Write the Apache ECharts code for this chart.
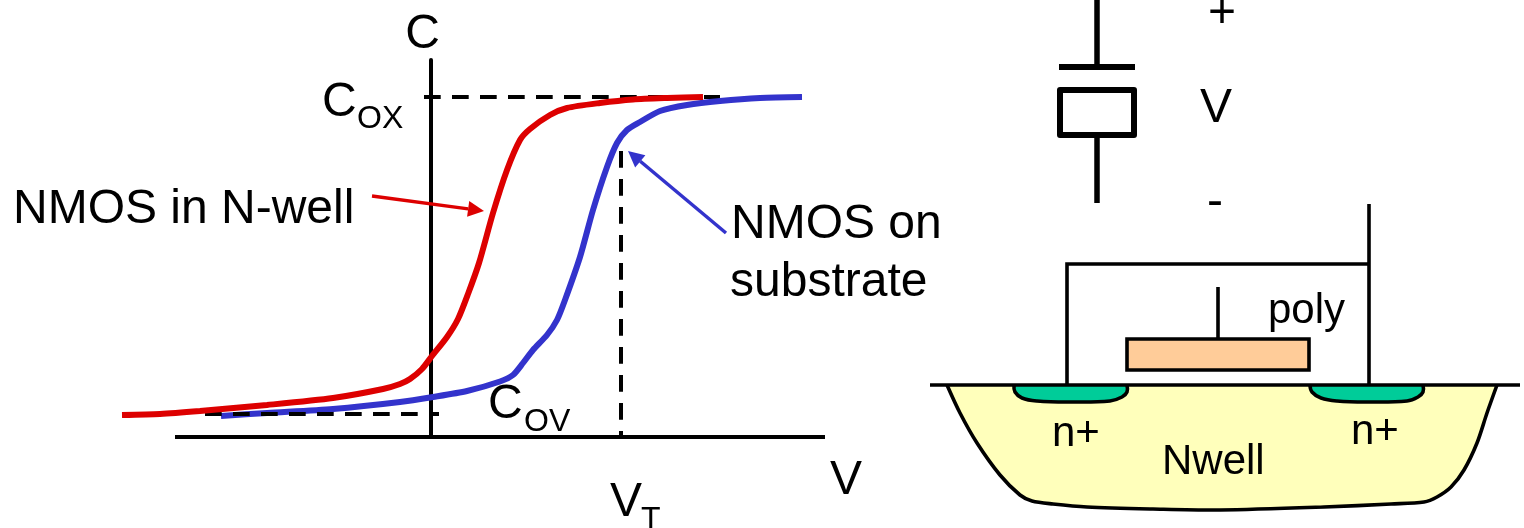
<!DOCTYPE html>
<html><head><meta charset="utf-8">
<style>html,body{margin:0;padding:0;background:#fff}#c{width:1524px;height:528px}</style>
<script src="https://cdn.jsdelivr.net/npm/echarts@6/dist/echarts.min.js"></script>
</head><body><div id="c"></div>
<script>
// C-V curves: [gate voltage, capacitance]
const nmosInNwell = [[-3.09,0.22],[-2.71,0.23],[-2.31,0.26],[-1.64,0.32],[-0.98,0.39],[-0.48,0.48],[-0.31,0.53],[-0.21,0.58],[-0.09,0.68],[0.01,0.81],[0.16,1.00],[0.27,1.18],[0.37,1.43],[0.48,1.74],[0.62,2.24],[0.76,2.67],[0.89,2.97],[0.99,3.08],[1.19,3.22],[1.36,3.29],[1.69,3.34],[2.02,3.375],[2.36,3.39],[2.72,3.40]];
const nmosOnSubstrate = [[-2.10,0.21],[-1.64,0.24],[-0.98,0.28],[-0.31,0.35],[0.02,0.40],[0.36,0.46],[0.69,0.555],[0.82,0.62],[0.92,0.74],[1.02,0.87],[1.16,1.02],[1.26,1.17],[1.34,1.37],[1.49,1.80],[1.62,2.27],[1.76,2.70],[1.86,2.94],[1.96,3.07],[2.09,3.15],[2.29,3.26],[2.56,3.32],[2.89,3.36],[3.29,3.39],[3.71,3.40]];
const vAxisBaseline = [[-2.56,0],[3.94,0]];
const coxGuide = [[-0.07,3.40],[2.89,3.40]];
const covGuide = [[-2.26,0.23],[0.08,0.23]];
const vtGuide = [[1.90,2.86],[1.90,0]];
const redArrow = [[-0.59,2.41],[0.53,2.26]];
const blueArrow = [[2.95,2.04],[1.97,2.86]];

// Device schematic outlines, in drawing units
const wellOutline = [[947,385],[960,413],[977,443],[1000,475],[1020,495],[1032,501],[1053,504],[1087,507],[1153,509],[1220,510],[1324,507],[1391,504],[1424,502],[1437,497],[1451,487],[1464,470],[1477,443],[1487,413],[1497,385]];
const nPlusLeft = [[1014,385],[1015,392],[1022,398],[1037,401],[1070,402],[1110,401],[1122,397],[1127,392],[1127,385]];
const nPlusRight = [[1310,385],[1312,392],[1321,398],[1337,401],[1367,402],[1407,401],[1418,397],[1423,392],[1423,385]];
const surfaceLine = [[930,385],[1520,385]];
const polyGate = [[1127,339],[1309,339],[1309,370],[1127,370]];
const gateWire = [[1218,287],[1218,339]];
const tieWire = [[1067,385],[1067,264],[1369,264]];
const terminalWire = [[1369,204],[1369,385]];
const capTopStem = [[1097,0],[1097,67]];
const capPlate = [[1059,67],[1135,67]];
const capBox = [[1060,90],[1134,90],[1134,135],[1060,135]];
const capBottomStem = [[1097,135],[1097,203]];

// Annotation texts: [text, left, baseline, font size]
const annotations = [
  ['C',322,114,48],['OX',357,128,32],
  ['NMOS in N-well',13,221,48],
  ['NMOS on',731,236,48],['substrate',730,294,48],
  ['C',488,416,48],['OV',524,431,32],
  ['V',610,514,48],['T',641,529,32],
  ['+',1208,25,48],['V',1200,120,48],['-',1207,214,48],
  ['poly',1268,322,42],['n+',1052,445,42],['n+',1351,443,42],['Nwell',1162,473,42]
];
const middleToBaseline = {48:11.3,42:10.2,32:9.2};

const RED='#DD0000', BLUE='#3333CC', BLACK='#000';
const FONT='"Liberation Sans", Arial, sans-serif';

function curve(name,data,color){
  return {name,type:'line',xAxisIndex:0,yAxisIndex:0,data,smooth:0.25,showSymbol:false,
    lineStyle:{color,width:6,cap:'butt'},z:4,silent:true};
}
function guide(name,data,z){
  return {name,type:'line',xAxisIndex:0,yAxisIndex:0,data,showSymbol:false,
    lineStyle:{color:BLACK,width:4,type:[16.7,11.3]},z:z,silent:true};
}
function arrow(name,pts,color){
  return {name,type:'custom',xAxisIndex:0,yAxisIndex:0,coordinateSystem:'cartesian2d',clip:false,silent:true,z:5,
    data:pts,
    renderItem(params,api){
      if(params.dataIndex!==0) return null;
      const a=api.coord(pts[0]), b=api.coord(pts[1]);
      const L=Math.hypot(b[0]-a[0],b[1]-a[1]), ux=(b[0]-a[0])/L, uy=(b[1]-a[1])/L;
      const hl=16, hw=8, bx=b[0]-ux*hl, by=b[1]-uy*hl;
      return {type:'group',children:[
        {type:'line',shape:{x1:a[0],y1:a[1],x2:bx,y2:by},style:{stroke:color,lineWidth:3.5}},
        {type:'polygon',shape:{points:[b,[bx-uy*hw,by+ux*hw],[bx+uy*hw,by-ux*hw]]},style:{fill:color}}
      ]};
    }};
}
function shape(name,pts,o){
  return {name,type:'custom',xAxisIndex:1,yAxisIndex:1,coordinateSystem:'cartesian2d',clip:false,silent:true,
    data:pts,z:o.z||3,
    renderItem(params,api){
      if(params.dataIndex!==0) return null;
      const s={points:pts.map(p=>api.coord(p))};
      if(o.smooth) s.smooth=o.smooth;
      return {type:o.closed?'polygon':'polyline',shape:s,
        style:{fill:o.fill||null,stroke:BLACK,lineWidth:o.width,lineJoin:o.join||'miter'}};
    }};
}

const chart=echarts.init(document.getElementById('c'),null,{renderer:'canvas'});
chart.setOption({
  animation:false,backgroundColor:'#fff',
  textStyle:{fontFamily:FONT},
  grid:[{left:120,top:60,width:705,height:377},{left:0,top:0,width:1524,height:528}],
  xAxis:[
    {type:'value',gridIndex:0,min:-3.11,max:3.94,splitLine:{show:false},axisTick:{show:false},axisLabel:{show:false},
     axisLine:{show:false},
     name:'V',nameLocation:'end',nameGap:5,nameTextStyle:{fontFamily:FONT,fontSize:48,color:BLACK,align:'left',verticalAlign:'top',padding:[20,0,0,0]}},
    {type:'value',gridIndex:1,min:0,max:1524,show:false}
  ],
  yAxis:[
    {type:'value',gridIndex:0,min:0,max:3.77,splitLine:{show:false},axisTick:{show:false},axisLabel:{show:false},
     axisLine:{show:true,onZero:true,lineStyle:{color:BLACK,width:4}},
     name:'C',nameLocation:'end',nameGap:1,nameTextStyle:{fontFamily:FONT,fontSize:48,color:BLACK,align:'center',padding:[0,17,0,0]}},
    {type:'value',gridIndex:1,min:0,max:528,inverse:true,show:false}
  ],
  series:[
    {name:'V axis',type:'line',xAxisIndex:0,yAxisIndex:0,data:vAxisBaseline,showSymbol:false,silent:true,z:3,
     lineStyle:{color:BLACK,width:4,cap:'butt'}},
    guide('COX',coxGuide,2),
    curve('NMOS on substrate',nmosOnSubstrate,BLUE),
    guide('COV',covGuide,4),
    guide('VT',vtGuide,2),
    curve('NMOS in N-well',nmosInNwell,RED),
    arrow('redArrow',redArrow,RED),
    arrow('blueArrow',blueArrow,BLUE),
    shape('well',wellOutline,{fill:'#FFFFBB',width:3.6,smooth:0.3,z:2}),
    shape('nPlusLeft',nPlusLeft,{fill:'#00CC99',width:3.6,smooth:0.4,z:3}),
    shape('nPlusRight',nPlusRight,{fill:'#00CC99',width:3.6,smooth:0.4,z:3}),
    shape('surface',surfaceLine,{width:3.6,z:4}),
    shape('poly',polyGate,{closed:true,fill:'#FFCC99',width:3.6,z:4}),
    shape('gateWire',gateWire,{width:3.6,z:4}),
    shape('tieWire',tieWire,{width:3.6,z:4}),
    shape('terminal',terminalWire,{width:3.6,z:4}),
    shape('capTop',capTopStem,{width:5.5,z:4}),
    shape('capPlate',capPlate,{width:6,z:4}),
    shape('capBox',capBox,{closed:true,fill:'#fff',width:6,join:'round',z:4}),
    shape('capBottom',capBottomStem,{width:5.5,z:3})
  ],
  graphic:annotations.map(([text,x,b,size])=>({type:'text',x,y:b-middleToBaseline[size],z:50,silent:true,
    style:{text,fontFamily:FONT,fontSize:size,fill:BLACK,verticalAlign:'middle',align:'left'}}))
});
</script></body></html>
